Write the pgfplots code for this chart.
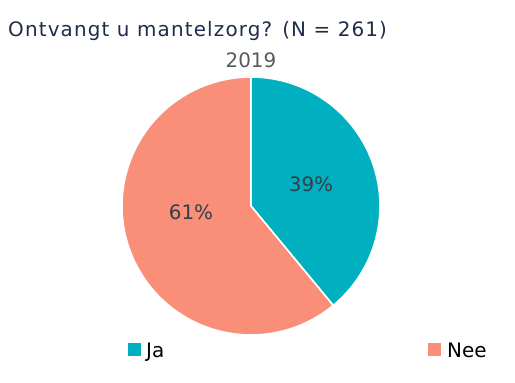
\documentclass[border=0pt]{standalone}
\usepackage{pgfplots}
\pgfplotsset{compat=1.18}
\usepackage{fontspec}
\setmainfont{DejaVu Sans}
\newfontfamily\titlefont[LetterSpace=5.8]{DejaVu Sans}
\definecolor{jacol}{HTML}{00B0C1}
\definecolor{neecol}{HTML}{F98F79}
\definecolor{titlecol}{HTML}{1E2B4A}
\definecolor{subcol}{HTML}{5A5A5A}
\definecolor{labcol}{HTML}{333F48}
% shares (percent)
\def\ja{39}
\def\nee{61}
\begin{document}
\begin{tikzpicture}
\begin{axis}[
  scale only axis, width=515bp, height=383bp,
  xmin=0, xmax=515, ymin=0, ymax=383,
  hide axis, clip=false,
]
\path (axis cs:0,0) rectangle (axis cs:515,383);
% Ja: from 90 deg clockwise by 39% of 360
\addplot[fill=jacol, draw=white, line width=1.6pt, domain={90-3.6*\ja}:90, samples=120]
  ({251+129*cos(x)},{177+129*sin(x)}) -- (axis cs:251,177) -- cycle;
% Nee: the remaining 61%
\addplot[fill=neecol, draw=white, line width=1.6pt, domain={90-3.6*\ja-3.6*\nee}:{90-3.6*\ja}, samples=160]
  ({251+129*cos(x)},{177+129*sin(x)}) -- (axis cs:251,177) -- cycle;
\node[anchor=base west, inner sep=0pt, text=titlecol, font=\titlefont\fontsize{20}{24}\selectfont] at (axis cs:8,346) {Ontvangt u mantelzorg? (N = 261)};
\node[anchor=base, text=subcol, font=\fontsize{20}{24}\selectfont] at (axis cs:251,315) {2019};
\node[text=labcol, font=\fontsize{20}{24}\selectfont] at (axis cs:311,199) {39\%};
\node[text=labcol, font=\fontsize{20}{24}\selectfont] at (axis cs:191,171) {61\%};
% legend
\fill[jacol] (axis cs:128,27) rectangle (axis cs:141,40);
\node[anchor=base west, inner sep=0pt, text=black, font=\fontsize{20}{24}\selectfont] at (axis cs:146,26) {Ja};
\fill[neecol] (axis cs:428,27) rectangle (axis cs:441,40);
\node[anchor=base west, inner sep=0pt, text=black, font=\fontsize{20}{24}\selectfont] at (axis cs:447,26) {Nee};
\end{axis}
\end{tikzpicture}
\end{document}
